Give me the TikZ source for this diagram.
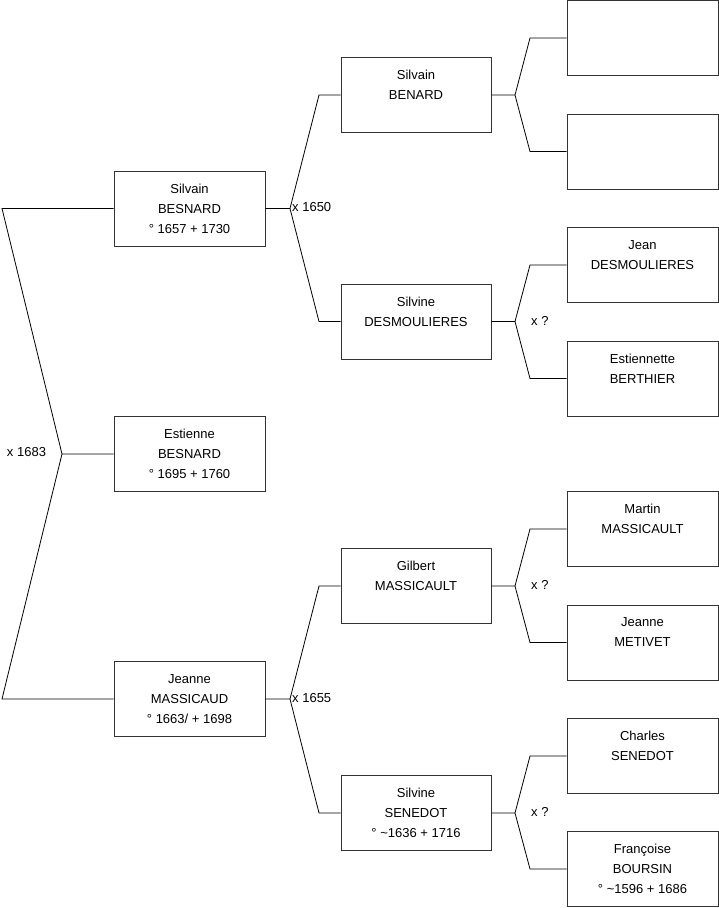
\documentclass[tikz,border=0pt]{standalone}
\usepackage{fontspec}
\setmainfont{Liberation Sans}
\begin{document}
\begin{tikzpicture}[x=1pt,y=-1pt,
  person/.style={draw=black!80, line width=0.9pt, minimum width=151pt, minimum height=75pt,
    inner sep=0pt, align=center, font=\fontsize{13pt}{20pt}\selectfont},
  link/.style={draw=black, line width=0.8pt},
  lbl/.style={inner sep=0pt, font=\fontsize{13pt}{16pt}\selectfont}]
\useasboundingbox (0,0) rectangle (719,908);
% generation 1 / 2
\node[person] (root) at (189.5,454) {Estienne\\BESNARD\\° 1695 + 1760};
\node[person] (s1) at (189.5,208.5) {Silvain\\BESNARD\\° 1657 + 1730};
\node[person] (j1) at (189.5,699) {Jeanne\\MASSICAUD\\° 1663/ + 1698};
% generation 3
\node[person, minimum width=150pt] (sb) at (416,95) {Silvain\\BENARD\\~};
\node[person, minimum width=150pt] (sd) at (416,321.5) {Silvine\\DESMOULIERES\\~};
\node[person, minimum width=150pt] (gm) at (416,586) {Gilbert\\MASSICAULT\\~};
\node[person, minimum width=150pt] (ss) at (416,813) {Silvine\\SENEDOT\\° \textasciitilde1636 + 1716};
% generation 4
\node[person] (e1) at (642.5,38) {};
\node[person] (e2) at (642.5,151.5) {};
\node[person] (jd) at (642.5,265) {Jean\\DESMOULIERES\\~};
\node[person] (eb) at (642.5,378.5) {Estiennette\\BERTHIER\\~};
\node[person] (mm) at (642.5,529) {Martin\\MASSICAULT\\~};
\node[person] (jm) at (642.5,642.5) {Jeanne\\METIVET\\~};
\node[person] (cs) at (642.5,756) {Charles\\SENEDOT\\~};
\node[person] (fb) at (642.5,869) {Françoise\\BOURSIN\\° \textasciitilde1596 + 1686};
% junction coordinates
\coordinate (jr) at (62,454);
\coordinate (jra) at (2,208.5);
\coordinate (jrb) at (2,699);
\coordinate (js) at (290,208.5);
\coordinate (jsa) at (319,95);
\coordinate (jsb) at (319,321.5);
\coordinate (jj) at (290,699);
\coordinate (jja) at (319,586);
\coordinate (jjb) at (319,813);
\coordinate (k1) at (515,95);
\coordinate (k1a) at (530,38);
\coordinate (k1b) at (530,151.5);
\coordinate (k2) at (515,321.5);
\coordinate (k2a) at (530,265);
\coordinate (k2b) at (530,378.5);
\coordinate (k3) at (515,586);
\coordinate (k3a) at (530,529);
\coordinate (k3b) at (530,642.5);
\coordinate (k4) at (515,813);
\coordinate (k4a) at (530,756);
\coordinate (k4b) at (530,869);
% connectors
\draw[link] (root.west) -- (jr) -- (jra) -- (s1.west);
\draw[link] (jr) -- (jrb) -- (j1.west);
\draw[link] (s1.east) -- (js) -- (jsa) -- (sb.west);
\draw[link] (js) -- (jsb) -- (sd.west);
\draw[link] (j1.east) -- (jj) -- (jja) -- (gm.west);
\draw[link] (jj) -- (jjb) -- (ss.west);
\draw[link] (sb.east) -- (k1) -- (k1a) -- (e1.west);
\draw[link] (k1) -- (k1b) -- (e2.west);
\draw[link] (sd.east) -- (k2) -- (k2a) -- (jd.west);
\draw[link] (k2) -- (k2b) -- (eb.west);
\draw[link] (gm.east) -- (k3) -- (k3a) -- (mm.west);
\draw[link] (k3) -- (k3b) -- (jm.west);
\draw[link] (ss.east) -- (k4) -- (k4a) -- (cs.west);
\draw[link] (k4) -- (k4b) -- (fb.west);
% marriage labels
\node[lbl] (m0) at (26.5,452) {x 1683};
\node[lbl, anchor=west] (m1) at (292,207.5) {x 1650};
\node[lbl, anchor=west] (m2) at (292,698) {x 1655};
\node[lbl, anchor=west] (m3) at (531,320.5) {x ?};
\node[lbl, anchor=west] (m4) at (531,584.5) {x ?};
\node[lbl, anchor=west] (m5) at (531,811.5) {x ?};
\end{tikzpicture}
\end{document}
